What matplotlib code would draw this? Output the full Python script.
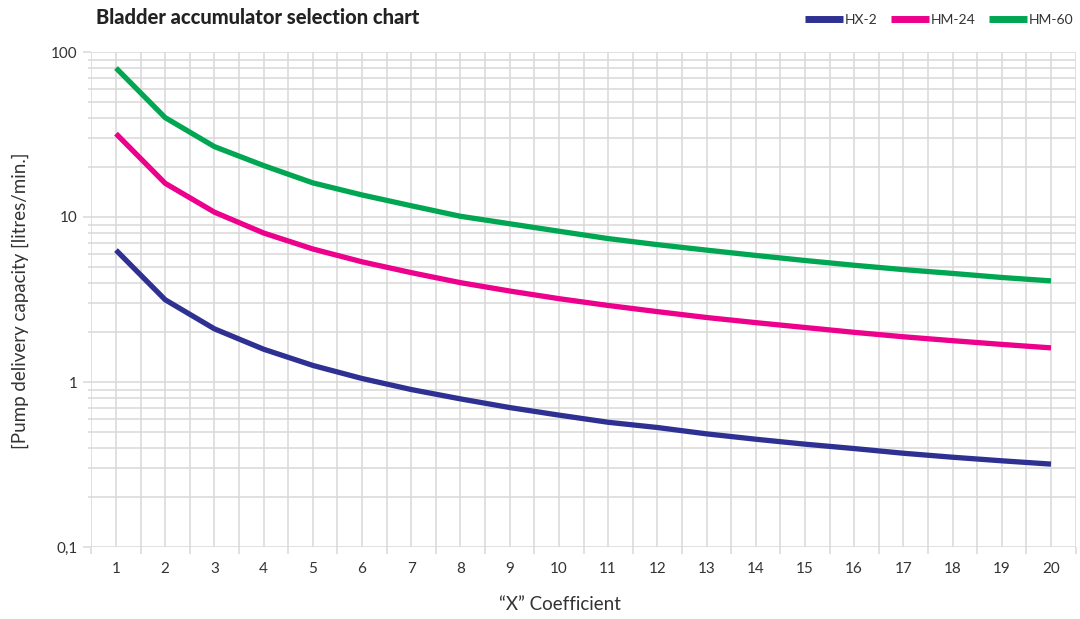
import matplotlib
matplotlib.use("Agg")
import matplotlib.pyplot as plt
from matplotlib.ticker import LogLocator, FixedLocator, NullFormatter, FixedFormatter

x_coeff = list(range(1, 21))
hx2 = [6.3, 3.15, 2.1, 1.58, 1.26, 1.05, 0.9, 0.79, 0.7, 0.63,
       0.57, 0.53, 0.485, 0.45, 0.42, 0.395, 0.37, 0.35, 0.333, 0.318]
hm24 = [32, 16, 10.7, 8.0, 6.4, 5.35, 4.6, 4.0, 3.56, 3.2,
        2.91, 2.67, 2.46, 2.29, 2.14, 2.0, 1.88, 1.78, 1.69, 1.61]
hm60 = [80, 40, 26.7, 20.5, 16.1, 13.6, 11.7, 10.1, 9.1, 8.2,
        7.4, 6.8, 6.3, 5.85, 5.45, 5.1, 4.8, 4.55, 4.3, 4.1]
series_names = ["HX-2", "HM-24", "HM-60"]
colors = ["#2e3192", "#ec008c", "#00a651"]
y_tick_vals = [0.1, 1, 10, 100]
y_tick_labels = ["0,1", "1", "10", "100"]

plt.rcParams['font.family'] = ['Lato', 'DejaVu Sans']

W, H = 1080, 619
fig = plt.figure(figsize=(W / 100, H / 100), dpi=100)
ax = fig.add_axes([91.4 / W, 1 - 547 / H, (1075.6 - 91.4) / W, (547 - 52) / H])

grid_c = "#d9d9d9"
for name, vals, c in zip(series_names, [hx2, hm24, hm60], colors):
    ax.plot(x_coeff, vals, color=c, lw=3.8, label=name, solid_capstyle='butt', zorder=3)

ax.set_yscale('log')
ax.set_ylim(0.1, 100)
ax.set_xlim(0.5, 20.5)

ax.yaxis.set_major_locator(FixedLocator(y_tick_vals))
ax.yaxis.set_major_formatter(FixedFormatter(y_tick_labels))
ax.yaxis.set_minor_locator(LogLocator(base=10, subs=range(2, 10)))
ax.yaxis.set_minor_formatter(NullFormatter())

ax.xaxis.set_major_locator(FixedLocator(x_coeff))
ax.xaxis.set_minor_locator(FixedLocator([v + 0.5 for v in [0] + x_coeff]))

ax.grid(True, which='both', axis='both', color=grid_c, lw=1.1, zorder=0)
ax.set_axisbelow(True)
for s in ax.spines.values():
    s.set_visible(False)

ax.tick_params(axis='x', which='major', length=0, pad=11, labelsize=11, labelcolor='#333333')
ax.tick_params(axis='x', which='minor', length=5, width=1.1, color=grid_c, direction='out')
ax.tick_params(axis='y', which='major', length=6, width=1.1, color=grid_c, pad=4,
               labelsize=11, labelcolor='#333333')
ax.tick_params(axis='y', which='minor', length=2, width=1.1, color=grid_c)

fig.text(96 / W, 1 - 18 / H, "Bladder accumulator selection chart", fontsize=14.5,
         fontweight='black', color='#222222', va='center', ha='left')
fig.text(20 / W, 1 - 301 / H, "[Pump delivery capacity [litres/min.]", rotation=90,
         fontsize=13.5, color='#333333', va='center', ha='center')
fig.text(560 / W, 1 - 605 / H, "\u201cX\u201d Coefficient", fontsize=13.5,
         color='#333333', va='center', ha='center')

leg = fig.legend(loc='upper right', bbox_to_anchor=(1086 / W, 1 - 1 / H), ncol=3,
                 frameon=False, handlelength=2.75, handletextpad=0.1, columnspacing=1.0,
                 fontsize=10)
for t in leg.get_texts():
    t.set_color('#333333')
for h in leg.get_lines():
    h.set_linewidth(5)

fig.savefig("out.png", dpi=100)
